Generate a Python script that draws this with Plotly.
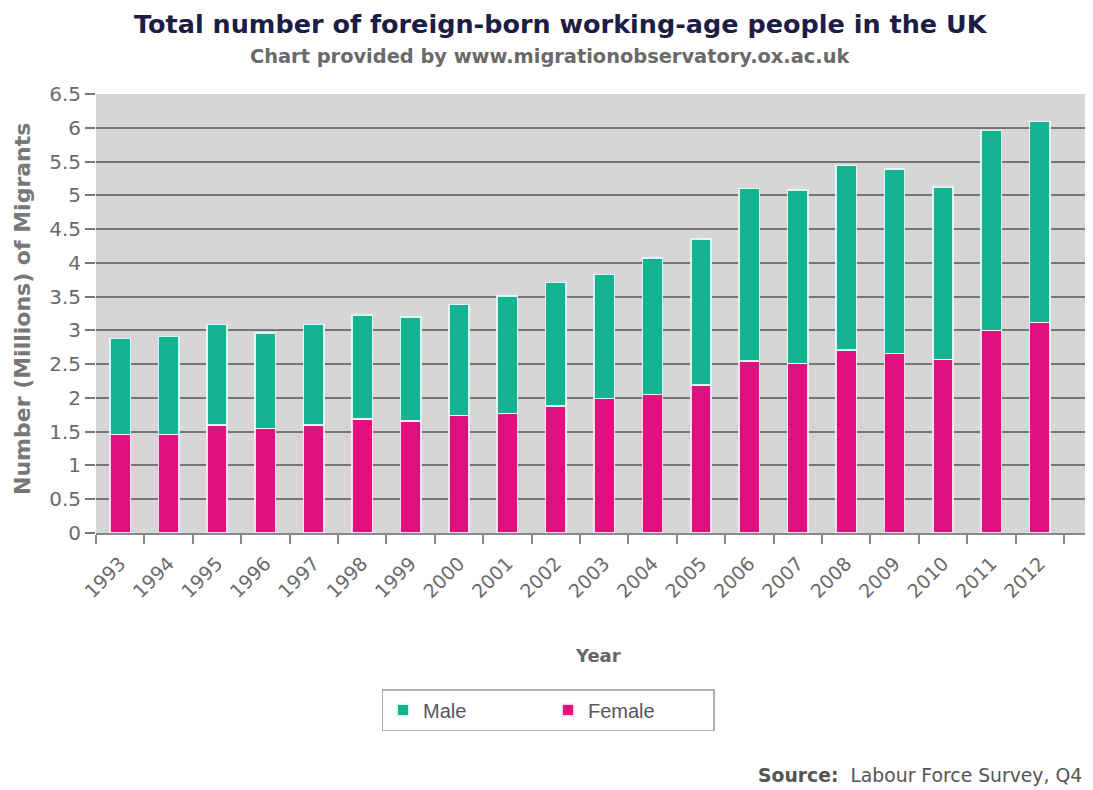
import plotly.graph_objects as go

years = [str(y) for y in range(1993, 2013)]
total = [2.88, 2.91, 3.09, 2.96, 3.09, 3.23, 3.20, 3.38, 3.51, 3.71,
         3.83, 4.07, 4.35, 5.10, 5.08, 5.44, 5.39, 5.12, 5.96, 6.09]
female = [1.46, 1.46, 1.60, 1.55, 1.60, 1.69, 1.66, 1.74, 1.77, 1.88,
          1.99, 2.05, 2.19, 2.55, 2.51, 2.71, 2.66, 2.57, 3.00, 3.12]
male = [round(t - f, 2) for t, f in zip(total, female)]

OFF = 8  # page body margin
W, H = 1093 - OFF, 790 - OFF
L, R, T, B = 96 - OFF, 0, 94 - OFF, 790 - 533
PW, PH = W - L - R, H - T - B


def px(x):
    return (x - OFF - L) / PW


def py(y):
    return (H - B - (y - OFF)) / PH


fig = go.Figure()
fig.add_trace(go.Bar(x=years, y=female, name="Female",
                     marker=dict(color="#e0117f", line=dict(color="rgba(255,235,245,0.9)", width=1.5))))
fig.add_trace(go.Bar(x=years, y=male, name="Male",
                     marker=dict(color="#14b391", line=dict(color="rgba(230,255,250,0.9)", width=1.5))))

fig.update_layout(
    width=W, height=H,
    margin=dict(l=L, r=R, t=T, b=B),
    barmode="stack", bargap=0.58,
    paper_bgcolor="white", plot_bgcolor="#d8d5d7",
    font=dict(family="DejaVu Sans", color="#666666"),
    showlegend=True,
    legend=dict(orientation="h", traceorder="reversed",
                x=px(548), y=py(710), xanchor="center", yanchor="middle",
                bgcolor="white", bordercolor="#b0b0b0", borderwidth=1.5,
                font=dict(family="Liberation Sans", size=20, color="#555566"),
                entrywidth=120, itemsizing="constant"),
    xaxis=dict(type="category", range=[-0.5, 20.1],
               tickangle=-45, tickson="boundaries", ticks="outside", ticklen=9,
               tickcolor="#888888", tickwidth=1.5, ticklabelstandoff=10,
               showgrid=False, showline=True, linecolor="#8a8a8a", linewidth=2,
               tickfont=dict(family="DejaVu Sans", size=19, color="#6a6a6a")),
    yaxis=dict(range=[0, 6.5], dtick=0.5, tick0=0,
               showgrid=True, gridcolor="#767676", gridwidth=1.6,
               ticks="outside", ticklen=10, tickcolor="#767676", tickwidth=1.6,
               zeroline=False, showline=False,
               tickfont=dict(family="DejaVu Sans", size=20, color="#6a6a6a")),
)

ann = [
    dict(text="<b>Total number of foreign-born working-age people in the UK</b>",
         x=px(561), y=py(24), font=dict(family="DejaVu Sans", size=25.5, color="#1c1c44")),
    dict(text="<b>Chart provided by www.migrationobservatory.ox.ac.uk</b>",
         x=px(550), y=py(57), font=dict(family="DejaVu Sans", size=19.4, color="#6a6a6a")),
    dict(text="<b>Number (Millions) of Migrants</b>", textangle=-90,
         x=px(22), y=py(309), font=dict(family="DejaVu Sans", size=22, color="#777777")),
    dict(text="<b>Year</b>",
         x=px(598), y=py(655), font=dict(family="DejaVu Sans", size=18, color="#666666")),
    dict(text="<b>Source:</b>  Labour Force Survey, Q4",
         x=px(1084), y=py(775), xanchor="right",
         font=dict(family="DejaVu Sans", size=18.8, color="#555555")),
]
for a in ann:
    a.setdefault("xanchor", "center")
    fig.add_annotation(xref="paper", yref="paper", yanchor="middle", showarrow=False, **a)

fig.write_html("out.html")
